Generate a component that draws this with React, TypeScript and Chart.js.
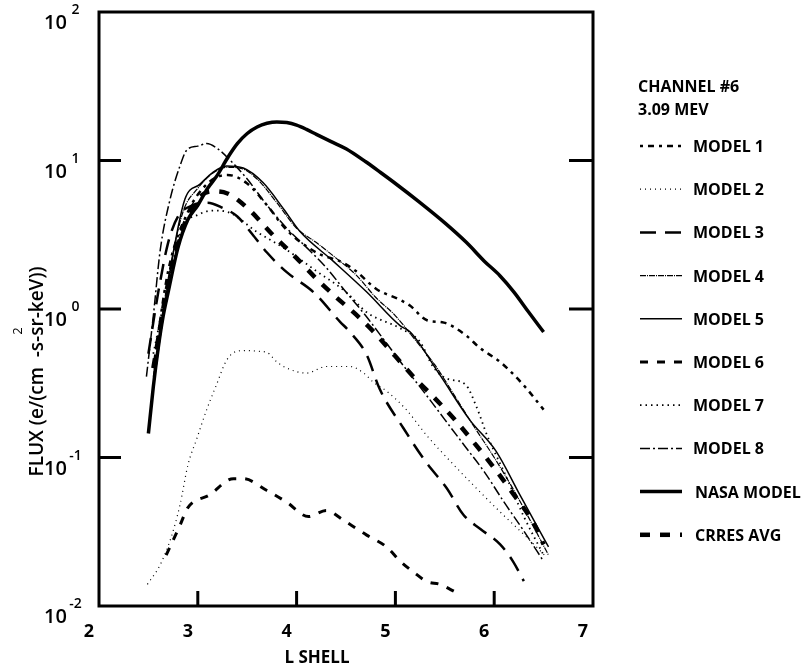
import React, { useEffect, useRef } from "react";
import { Chart, registerables } from "chart.js";

Chart.register(...registerables);

// ---- Axis ticks / labels ----
const xTicks = [2, 3, 4, 5, 6, 7];
const yTickExponents = [2, 1, 0, -1, -2];
const legendHeader = ["CHANNEL #6", "3.09 MEV"];
const xTitle = "L SHELL";
const yTitle = "FLUX (e/(cm  -s-sr-keV))";

// ---- Series (L shell, flux) ----
const model1L = [2.55, 2.7, 2.9, 3.1, 3.3, 3.5, 3.7, 3.9, 4.2, 4.47, 4.6, 4.81, 5.05, 5.15, 5.32, 5.49, 5.72, 5.85, 6.06, 6.2, 6.33, 6.5];
const model1Flux = [0.4, 1.8, 4.5, 7, 8, 7, 5, 3.4, 2.4, 2.05, 1.8, 1.36, 1.15, 1.05, 0.84, 0.81, 0.66, 0.55, 0.44, 0.36, 0.29, 0.21];

const model2L = [2.49, 2.62, 2.73, 2.82, 2.9, 2.99, 3.09, 3.19, 3.29, 3.4, 3.49, 3.6, 3.7, 3.8, 3.9, 4.1, 4.3, 4.54, 4.68, 4.78, 4.91, 5.11, 5.32, 5.52, 5.79, 6.06, 6.33, 6.51];
const model2Flux = [0.014, 0.019, 0.029, 0.048, 0.089, 0.134, 0.21, 0.31, 0.45, 0.52, 0.525, 0.52, 0.51, 0.44, 0.4, 0.37, 0.41, 0.41, 0.37, 0.32, 0.28, 0.21, 0.14, 0.1, 0.065, 0.043, 0.029, 0.022];

const model3L = [2.5, 2.6, 2.7, 2.8, 2.95, 3.1, 3.25, 3.4, 3.55, 3.7, 3.9, 4.17, 4.44, 4.54, 4.71, 4.84, 5.08, 5.31, 5.52, 5.69, 5.86, 6.06, 6.19, 6.3];
const model3Flux = [0.5, 1.3, 2.8, 4.2, 5.0, 5.2, 4.8, 4.2, 3.2, 2.4, 1.77, 1.3, 0.82, 0.7, 0.49, 0.29, 0.158, 0.093, 0.062, 0.041, 0.033, 0.026, 0.02, 0.0147];

const model4L = [2.55, 2.7, 2.85, 3.0, 3.15, 3.3, 3.45, 3.6, 3.8, 4.0, 4.2, 4.4, 4.6, 4.8, 5.0, 5.2, 5.4, 5.6, 5.8, 6.0, 6.2, 6.4, 6.55];
const model4Flux = [0.35, 1.6, 4.5, 6.5, 8.2, 9.0, 8.8, 7.5, 5.2, 3.5, 2.8, 2.2, 1.7, 1.2, 0.9, 0.62, 0.42, 0.26, 0.16, 0.1, 0.06, 0.034, 0.022];

const model5L = [2.55, 2.7, 2.87, 3.02, 3.15, 3.29, 3.46, 3.66, 3.87, 4.03, 4.37, 4.71, 5.05, 5.15, 5.45, 5.75, 6.02, 6.26, 6.46, 6.55];
const model5Flux = [0.3, 1.5, 5.5, 6.9, 8.3, 9.2, 8.9, 7.1, 4.7, 3.35, 2.1, 1.3, 0.77, 0.7, 0.36, 0.18, 0.11, 0.056, 0.032, 0.025];

const model6L = [2.68, 2.82, 2.9, 3.12, 3.36, 3.46, 3.7, 3.9, 4.12, 4.3, 4.47, 4.71, 4.91, 5.05, 5.18, 5.32, 5.45, 5.55, 5.65];
const model6Flux = [0.022, 0.035, 0.046, 0.056, 0.072, 0.072, 0.06, 0.05, 0.04, 0.044, 0.038, 0.03, 0.025, 0.02, 0.017, 0.0146, 0.014, 0.013, 0.012];

const model7L = [2.55, 2.7, 2.85, 3.0, 3.15, 3.3, 3.6, 3.9, 4.2, 4.5, 4.71, 5.05, 5.25, 5.38, 5.52, 5.71, 5.82, 5.93, 6.1, 6.3, 6.5];
const model7Flux = [0.5, 1.5, 3.6, 4.3, 4.6, 4.5, 3.3, 2.5, 1.8, 1.3, 0.95, 0.74, 0.6, 0.41, 0.34, 0.31, 0.22, 0.14, 0.08, 0.04, 0.022];

const model8L = [2.48, 2.55, 2.62, 2.72, 2.82, 2.89, 3.0, 3.09, 3.2, 3.33, 3.5, 3.7, 3.9, 4.1, 4.3, 4.5, 4.7, 4.9, 5.1, 5.3, 5.5, 5.7, 5.9, 6.1, 6.3, 6.5];
const model8Flux = [0.35, 0.9, 2.5, 5.5, 9.2, 11.8, 12.5, 13, 12, 10, 7.5, 5, 3.5, 2.6, 1.9, 1.3, 0.9, 0.6, 0.4, 0.27, 0.18, 0.12, 0.08, 0.05, 0.032, 0.02];

const nasaL = [2.5, 2.55, 2.6, 2.65, 2.7, 2.8, 2.9, 3.0, 3.1, 3.2, 3.3, 3.4, 3.5, 3.6, 3.7, 3.8, 3.9, 4.0, 4.1, 4.2, 4.35, 4.5, 4.7, 4.85, 5.0, 5.25, 5.5, 5.72, 5.9, 6.06, 6.2, 6.35, 6.5];
const nasaFlux = [0.145, 0.3, 0.55, 0.9, 1.3, 2.6, 4.0, 5.0, 6.5, 8.0, 10.4, 13, 15.2, 16.8, 17.8, 18.2, 18.0, 17.3, 16.2, 15.0, 13.4, 12.0, 9.8, 8.3, 7.0, 5.2, 3.8, 2.8, 2.1, 1.67, 1.3, 0.95, 0.7];

const crresL = [2.55, 2.7, 2.85, 3.0, 3.15, 3.3, 3.5, 3.75, 4.0, 4.2, 4.4, 4.6, 4.8, 5.0, 5.2, 5.4, 5.6, 5.8, 6.0, 6.2, 6.4, 6.5];
const crresFlux = [0.4, 1.5, 3.5, 5.5, 6.2, 6.0, 4.8, 3.2, 2.2, 1.6, 1.2, 0.92, 0.68, 0.48, 0.34, 0.25, 0.18, 0.125, 0.085, 0.056, 0.036, 0.026];

const seriesLabels = ["MODEL 1", "MODEL 2", "MODEL 3", "MODEL 4", "MODEL 5", "MODEL 6", "MODEL 7", "MODEL 8", "NASA MODEL", "CRRES AVG"];

const pts = (xs: number[], ys: number[]) => xs.map((x, i) => ({ x, y: ys[i] }));

export default function App() {
  const ref = useRef<HTMLCanvasElement | null>(null);

  useEffect(() => {
    const canvas = ref.current;
    if (!canvas) return;

    const styles = [
      { w: 2.5, d: [3, 5, 6, 5] },
      { w: 1.2, d: [1, 4] },
      { w: 2.5, d: [16, 9] },
      { w: 1.2, d: [6, 1, 1, 1] },
      { w: 1.5, d: [] },
      { w: 3, d: [8, 9] },
      { w: 1.8, d: [1.5, 4] },
      { w: 1.5, d: [10, 3, 2, 3] },
      { w: 3.5, d: [] },
      { w: 4.5, d: [10, 10] },
    ];
    const allData = [
      pts(model1L, model1Flux),
      pts(model2L, model2Flux),
      pts(model3L, model3Flux),
      pts(model4L, model4Flux),
      pts(model5L, model5Flux),
      pts(model6L, model6Flux),
      pts(model7L, model7Flux),
      pts(model8L, model8Flux),
      pts(nasaL, nasaFlux),
      pts(crresL, crresFlux),
    ];

    const datasets = allData.map((data, i) => ({
      label: seriesLabels[i],
      data,
      borderColor: "#000",
      backgroundColor: "#000",
      borderWidth: styles[i].w,
      borderDash: styles[i].d,
      pointRadius: 0,
      fill: false,
      cubicInterpolationMode: "monotone" as const,
    }));

    const FONT = '"Open Sans", "DejaVu Sans", sans-serif';

    const decorations = {
      id: "decorations",
      afterDatasetsDraw(chart: any) {
        const { ctx, chartArea: a, scales } = chart;
        const xs = scales.x;
        const ys = scales.y;
        const line = (x1: number, y1: number, x2: number, y2: number) => {
          ctx.beginPath();
          ctx.moveTo(x1, y1);
          ctx.lineTo(x2, y2);
          ctx.stroke();
        };
        ctx.save();
        ctx.strokeStyle = "#000";
        ctx.fillStyle = "#000";
        ctx.setLineDash([]);
        ctx.lineCap = "butt";
        ctx.lineWidth = 3;
        ctx.strokeRect(a.left, a.top, a.right - a.left, a.bottom - a.top);

        // y ticks + labels
        yTickExponents.forEach((e) => {
          const py = ys.getPixelForValue(Math.pow(10, e));
          if (py > a.top + 2 && py < a.bottom - 2) {
            line(a.left, py, a.left + 22, py);
            line(a.right - 24, py, a.right, py);
          }
          ctx.font = `600 20px ${FONT}`;
          ctx.textAlign = "left";
          ctx.textBaseline = "alphabetic";
          ctx.fillText("10", 44, py + 17);
          ctx.font = `600 14px ${FONT}`;
          ctx.textAlign = "center";
          ctx.fillText(String(e), 75.5, py + 2);
        });

        // x ticks + labels
        xTicks.forEach((v) => {
          const px = xs.getPixelForValue(v);
          if (px > a.left + 2 && px < a.right - 2) {
            line(px, a.bottom, px, a.bottom - 15);
          }
          ctx.font = `700 18px ${FONT}`;
          ctx.textAlign = "center";
          ctx.textBaseline = "alphabetic";
          ctx.fillText(String(v), px - 10, 637);
        });

        // x title
        ctx.font = `700 17px ${FONT}`;
        ctx.textAlign = "center";
        ctx.fillText(xTitle, 317, 663);

        // y title
        ctx.save();
        ctx.translate(43, 371.5);
        ctx.rotate(-Math.PI / 2);
        ctx.font = `600 19px ${FONT}`;
        ctx.textAlign = "center";
        ctx.textBaseline = "alphabetic";
        ctx.fillText(yTitle, 0, 0);
        ctx.restore();
        ctx.save();
        ctx.translate(22, 331);
        ctx.rotate(-Math.PI / 2);
        ctx.font = `500 13px ${FONT}`;
        ctx.textAlign = "center";
        ctx.textBaseline = "alphabetic";
        ctx.fillText("2", 0, 0);
        ctx.restore();

        // legend header
        ctx.font = `700 16px ${FONT}`;
        ctx.textAlign = "left";
        ctx.textBaseline = "alphabetic";
        ctx.fillText(legendHeader[0], 638, 92);
        ctx.fillText(legendHeader[1], 638, 115);

        // legend entries
        chart.data.datasets.forEach((ds: any, i: number) => {
          const cy = 146 + i * 43.2;
          ctx.save();
          ctx.lineWidth = ds.borderWidth;
          ctx.setLineDash(ds.borderDash || []);
          line(640, cy, 682, cy);
          ctx.restore();
          ctx.font = `700 16px ${FONT}`;
          ctx.fillText(ds.label, i >= 8 ? 695 : 693, cy + 6);
        });
        ctx.restore();
      },
    };

    const chart = new Chart(canvas, {
      type: "line",
      data: { datasets },
      options: {
        animation: false,
        responsive: false,
        maintainAspectRatio: false,
        layout: { padding: { left: 99, right: 218, top: 12, bottom: 60 } },
        plugins: { legend: { display: false }, tooltip: { enabled: false } },
        scales: {
          x: { type: "linear", min: 2, max: 7, display: false },
          y: { type: "logarithmic", min: 0.01, max: 100, display: false },
        },
      },
      plugins: [decorations],
    });
    return () => chart.destroy();
  }, []);

  return (
    <div style={{ position: "fixed", left: 0, top: 0, width: 811, height: 666, background: "#fff" }}>
      <canvas ref={ref} width={811} height={666} style={{ display: "block", width: 811, height: 666 }} />
    </div>
  );
}
